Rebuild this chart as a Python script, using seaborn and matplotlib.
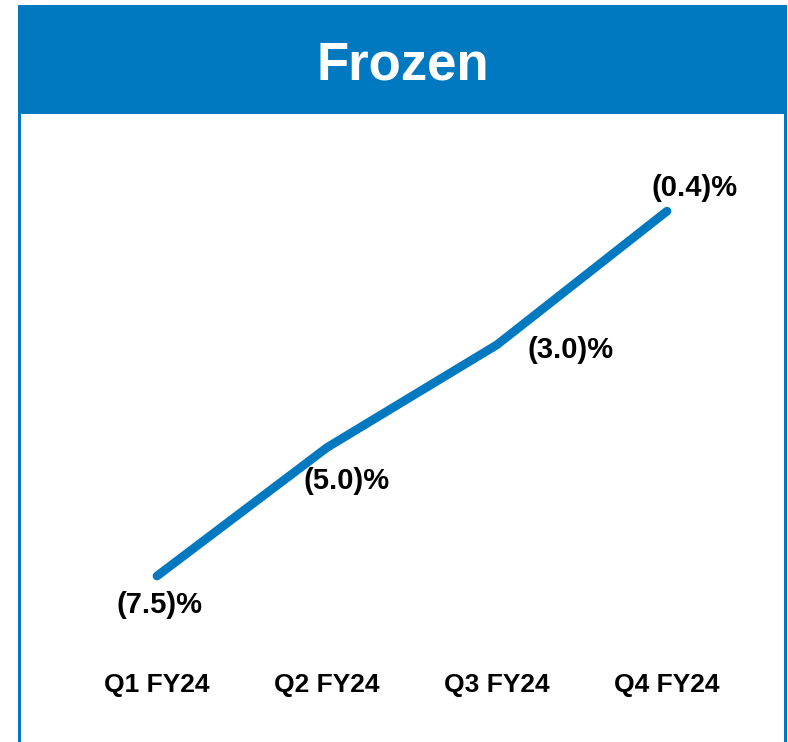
import matplotlib
matplotlib.use("Agg")
import matplotlib.pyplot as plt
from matplotlib.patches import Rectangle
import seaborn as sns
import pandas as pd

quarters = ["Q1 FY24", "Q2 FY24", "Q3 FY24", "Q4 FY24"]
growth = [-7.5, -5.0, -3.0, -0.4]
title = "Frozen"

# label offsets (points) relative to each point
label_dx = [2, 14, 53, 20]
label_dy = [-21, -24, -4, 17]

BLUE = "#0079C1"
W, H = 788, 742

sns.set_theme(style="white")
plt.rcParams["font.family"] = ["Liberation Sans", "DejaVu Sans"]

fig = plt.figure(figsize=(W / 100, H / 100), dpi=100)
fig.patch.set_facecolor("white")

def px_rect(x0, y0, x1, y1, **kw):
    fig.patches.append(Rectangle((x0 / W, 1 - y1 / H), (x1 - x0) / W, (y1 - y0) / H,
                                 transform=fig.transFigure, figure=fig, **kw))

# header band and panel side borders
px_rect(18, 5, 787, 114, color=BLUE, lw=0)
px_rect(18, 114, 21, 742, color=BLUE, lw=0)
px_rect(784, 114, 787, 742, color=BLUE, lw=0)
fig.text(403 / W, 1 - 65 / H, title, color="white", fontsize=38, fontweight="bold",
         ha="center", va="center")

ax = fig.add_axes([72 / W, 1 - 650 / H, 680 / W, 500 / H])
df = pd.DataFrame({"x": range(len(quarters)), "growth": growth})
sns.lineplot(data=df, x="x", y="growth", ax=ax, color=BLUE, linewidth=6.3)
for ln in ax.lines:
    ln.set_solid_capstyle("round")

ax.set_xlim(-0.5, 3.5)
ax.set_ylim(-8.94, 0.79)
ax.set_xticks(range(len(quarters)))
ax.set_xticklabels(quarters, fontsize=19, fontweight="bold", color="black")
ax.tick_params(axis="x", length=0, pad=16.5)
ax.set_yticks([])
ax.set_xlabel("")
ax.set_ylabel("")
for s in ax.spines.values():
    s.set_visible(False)
ax.patch.set_alpha(0)

for i, v in enumerate(growth):
    txt = f"({abs(v):.1f})%" if v < 0 else f"{v:.1f}%"
    ax.annotate(txt, (i, v), xytext=(label_dx[i], label_dy[i]), textcoords="offset points",
                ha="center", va="center", fontsize=21, fontweight="bold", color="black")

fig.savefig("out.png", dpi=100, facecolor="white")
